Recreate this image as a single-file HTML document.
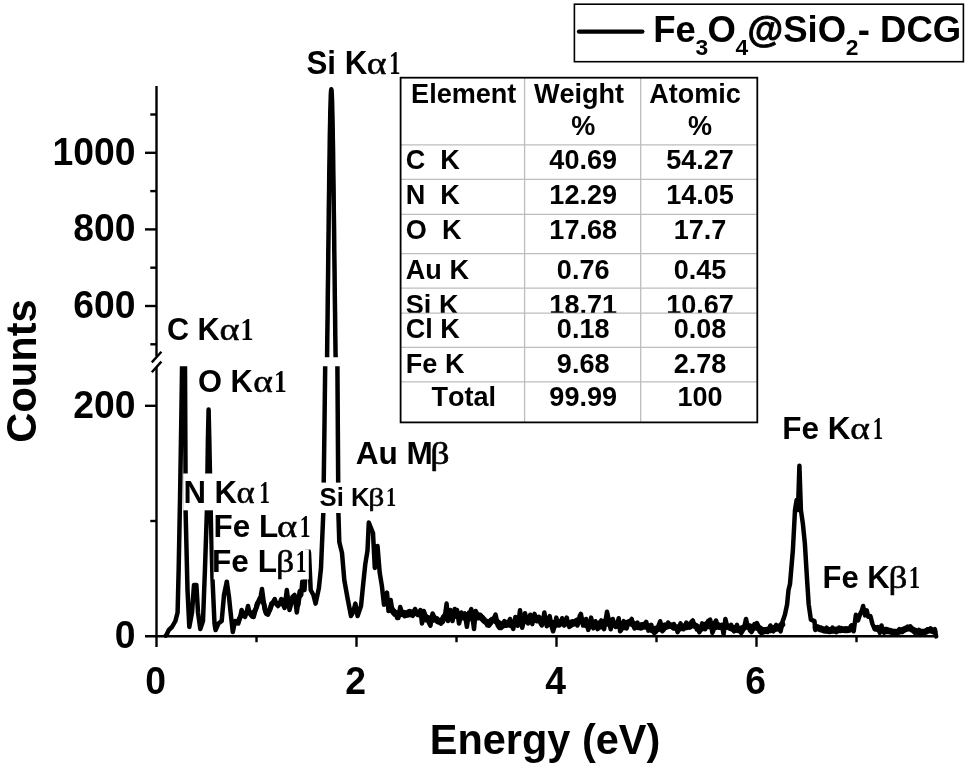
<!DOCTYPE html>
<html lang="en"><head><meta charset="utf-8"><title>EDS spectrum Fe3O4@SiO2-DCG</title>
<style>
html,body{margin:0;padding:0;background:#fff;}
svg{display:block;}
text{font-family:"Liberation Sans", sans-serif;font-weight:bold;fill:#000;font-kerning:none;}
.sy{font-family:"Liberation Serif", serif;font-weight:normal;}
.syb{font-family:"Liberation Serif", serif;font-weight:bold;}
</style></head><body>
<svg width="965" height="770" viewBox="0 0 965 770">
<rect x="0" y="0" width="965" height="770" fill="#fff"/>
<defs>
<clipPath id="cl"><rect x="150" y="366.2" width="800" height="275"/></clipPath>
<clipPath id="cu"><rect x="150" y="80" width="800" height="277.2"/></clipPath>
<clipPath id="csi"><rect x="400" y="288.1" width="358" height="24.6"/></clipPath>
</defs>
<g fill="none" stroke="#000" stroke-width="4.5" stroke-linejoin="round" stroke-linecap="round">
<polyline clip-path="url(#cl)" points="165.8,635.6 166.8,634.2 168.8,630.0 172.0,627.0 175.4,621.0 177.6,612.5 178.7,568.0 180.0,500.0 181.3,420.0 182.6,330.0 183.5,300.0 184.4,330.0 185.0,366.0 185.5,470.0 185.6,511.0 187.5,590.0 189.3,627.0 192.0,612.5 194.0,585.0 196.4,585.0 198.0,612.5 200.3,629.0 203.0,621.0 205.0,568.0 206.9,511.0 207.9,440.0 208.6,409.5 209.3,440.0 210.7,511.0 212.5,579.0 214.5,623.5 215.6,630.0 218.4,623.5 221.7,621.0 224.0,595.0 226.8,581.5 229.0,597.0 230.6,612.5 232.8,632.0 235.0,621.0 236.7,623.1 238.3,623.5 239.9,618.4 241.6,610.0 243.3,615.3 245.0,617.0 246.5,612.7 248.0,606.0 249.2,611.5 250.4,614.6 252.1,616.6 253.7,617.0 255.3,611.1 257.0,603.6 258.4,602.9 259.7,600.0 260.9,595.5 262.0,589.0 264.8,610.0 266.4,613.9 268.0,614.6 269.7,610.0 271.4,603.6 273.0,602.0 274.7,599.0 276.4,604.2 278.0,606.0 279.6,603.8 281.3,599.0 283.0,604.4 284.6,608.0 286.8,590.0 289.5,610.0 290.9,604.8 292.4,597.0 294.6,595.0 296.8,612.5 299.0,597.0 301.2,595.0 302.3,581.5 304.5,590.0 306.0,565.0 307.6,547.0 309.0,553.0 310.7,590.0 313.4,595.0 315.6,603.6 318.9,588.0 321.0,568.0 323.3,513.0 324.3,440.0 325.2,366.0 326.0,300.0 331.3,100.0 336.6,300.0 337.4,366.0 337.9,440.0 338.4,513.0 339.3,542.0 342.0,553.0 344.3,580.0 347.7,599.0 351.0,616.0 353.0,612.5 355.4,603.6 357.6,616.0 361.0,606.0 363.0,586.0 365.3,564.0 367.5,550.6 368.8,522.5 370.8,527.5 373.0,533.0 374.8,568.0 377.5,546.0 379.7,572.7 381.9,586.0 384.0,604.7 387.0,592.6 388.5,611.0 390.7,600.0 391.9,607.6 393.0,612.5 394.5,614.6 396.0,614.6 397.2,618.0 398.4,618.0 400.2,607.0 401.5,611.2 402.8,613.5 404.4,616.2 406.0,615.8 407.2,615.6 408.3,611.6 409.5,611.0 411.1,614.9 412.8,615.8 415.0,609.0 416.6,612.7 418.3,614.6 420.5,610.0 422.0,623.5 423.8,611.0 425.4,615.5 427.0,617.0 428.7,622.3 430.4,625.7 432.6,613.5 434.3,617.2 436.0,619.0 437.6,622.1 439.3,622.4 441.0,623.7 442.6,621.0 444.8,617.0 446.6,603.6 448.0,621.0 449.1,616.5 450.3,610.0 452.5,621.0 454.7,609.0 455.9,610.7 457.0,610.0 459.0,623.5 460.1,619.7 461.3,612.5 463.0,615.1 464.7,613.5 466.9,626.8 469.0,612.5 470.1,612.4 471.3,609.0 474.0,629.0 475.7,611.0 477.4,614.2 479.0,614.6 480.6,618.0 482.3,617.0 484.0,619.9 485.6,621.0 487.3,625.4 489.0,625.7 490.6,623.6 492.3,619.0 494.0,617.9 495.6,614.6 497.8,625.7 499.4,627.9 501.0,628.0 502.7,625.8 504.4,621.0 506.6,625.7 508.3,624.3 510.0,619.0 511.6,625.1 513.2,629.0 515.4,617.0 517.6,625.7 518.8,619.6 520.0,610.3 522.2,627.7 523.6,622.2 525.0,613.2 526.5,619.7 528.0,623.4 530.2,614.7 532.3,624.1 534.5,613.9 536.7,621.2 538.9,616.8 540.3,622.8 541.8,625.5 543.1,620.0 544.4,612.5 545.6,620.4 546.8,626.3 548.2,622.4 549.7,616.1 551.4,625.5 553.1,631.3 554.7,625.9 556.3,617.6 557.8,622.8 559.2,625.5 560.7,623.6 562.1,618.3 564.2,625.5 565.5,623.0 566.7,617.6 568.0,623.6 569.3,627.0 570.8,626.0 572.2,621.2 573.7,623.0 575.1,621.2 577.3,625.5 578.5,622.8 579.7,616.1 580.9,613.9 583.1,625.5 584.5,623.8 586.0,619.0 588.2,629.9 589.7,625.8 591.1,617.6 593.3,628.4 595.4,621.2 597.6,629.2 598.8,628.1 600.0,622.1 601.2,620.5 602.7,627.0 604.1,629.2 607.0,611.8 610.7,629.2 612.8,619.0 614.2,624.0 615.7,627.0 617.2,624.1 618.7,618.3 620.1,631.3 621.3,629.8 622.5,623.5 623.7,621.2 625.2,626.3 626.6,628.4 628.8,621.2 630.2,621.0 631.7,619.0 633.2,625.5 634.6,628.4 636.0,627.4 637.5,622.6 639.0,627.1 640.4,628.4 641.8,628.3 643.3,624.1 644.8,624.3 646.2,621.9 648.4,630.6 649.8,629.5 651.3,624.8 652.9,630.6 654.3,633.0 655.8,632.1 658.0,627.0 660.2,621.2 662.3,631.3 663.8,629.7 665.2,624.8 666.7,625.2 668.1,622.6 669.5,626.4 671.0,626.3 672.5,627.3 673.9,624.1 675.1,628.3 676.4,627.7 677.6,632.1 679.0,628.7 680.5,623.4 682.0,628.1 683.4,629.2 684.8,627.6 686.3,622.6 687.8,627.3 689.2,627.7 690.4,627.3 691.6,621.6 692.8,620.5 694.2,624.4 695.7,625.5 696.9,629.5 698.1,629.0 699.3,632.1 700.8,629.2 702.2,623.4 703.7,627.4 705.1,629.2 706.5,626.2 708.0,621.2 710.2,619.7 712.4,632.8 713.6,629.7 714.8,622.7 716.0,620.5 717.5,625.2 718.9,627.7 720.3,627.5 721.8,624.8 723.6,634.2 725.4,619.0 726.8,624.7 728.3,627.7 729.8,628.3 731.2,624.8 732.7,629.0 734.1,631.3 735.5,629.5 737.0,624.8 738.5,629.7 739.9,631.3 741.3,633.0 742.8,630.6 744.4,626.8 746.0,619.0 747.3,624.7 748.6,626.3 750.0,630.4 751.5,632.1 753.0,629.5 754.4,624.1 755.6,625.9 756.9,623.0 758.1,625.5 759.5,631.3 761.0,632.8 762.2,632.7 763.4,629.3 764.6,629.2 766.0,631.8 767.5,632.1 769.0,630.0 770.4,625.5 771.8,629.9 773.3,631.3 774.8,629.7 776.2,624.8 777.7,627.5 779.1,627.7 780.6,631.3 782.7,621.2 784.9,614.7 787.1,604.5 788.5,590.0 790.0,584.0 792.9,550.0 795.0,510.0 796.6,500.0 798.0,510.0 799.4,465.7 800.9,510.0 802.9,524.0 804.9,544.0 807.0,578.6 808.7,604.5 810.9,619.7 814.5,621.2 815.2,629.9 816.7,629.1 818.1,627.0 819.5,628.4 821.0,627.7 822.5,630.5 823.9,631.3 825.3,630.7 826.8,627.7 828.2,631.5 829.7,632.1 831.2,631.2 832.6,627.7 833.8,630.3 835.1,629.4 836.3,632.1 837.8,631.2 839.2,627.7 840.4,629.4 841.6,628.1 842.8,630.6 844.2,630.9 845.7,628.4 847.2,631.0 848.6,630.6 850.0,629.5 851.5,625.5 853.7,631.3 855.9,614.7 858.0,620.5 860.2,613.9 861.7,611.0 863.1,606.0 865.0,615.4 866.7,610.3 868.2,616.8 870.4,616.1 872.5,624.1 874.7,629.2 876.2,629.1 877.6,627.0 879.8,632.8 881.5,625.5 882.8,629.9 884.1,632.8 885.5,632.2 887.0,629.2 888.5,630.2 889.9,629.9 891.1,631.8 892.4,631.5 893.6,633.5 895.0,633.6 896.5,632.1 898.0,631.6 899.4,629.2 900.8,631.3 902.3,632.1 903.8,630.9 905.2,628.4 906.5,628.7 907.8,626.6 909.0,627.8 910.3,626.3 911.8,629.1 913.2,630.6 914.7,632.8 916.1,632.1 917.5,632.2 919.0,629.9 920.5,632.1 921.9,632.8 923.3,633.3 924.8,632.1 926.2,631.6 927.7,629.2 929.2,629.8 930.6,628.4 932.7,631.3 934.9,629.2 936.1,636.4"/>
<polyline clip-path="url(#cl)" stroke-width="6.5" points="392.0,610.0 394.0,612.2 396.0,613.2 398.0,613.9 400.0,614.1 402.0,613.6 404.0,613.0 406.0,613.6 408.0,614.2 410.0,614.1 412.0,612.5 414.0,613.0 416.0,612.4 418.0,614.0 420.0,614.4 422.0,614.9 424.0,615.4 426.0,619.2 428.0,618.3 430.0,619.2 432.0,619.6 434.0,619.5 436.0,618.9 438.0,620.9 440.0,621.6 442.0,621.2 444.0,617.3 446.0,614.9 448.0,614.9 450.0,614.4 452.0,614.7 454.0,612.1 456.0,615.6 458.0,614.2 460.0,615.3 462.0,616.9 464.0,617.5 466.0,616.1 468.0,614.8 470.0,617.9 472.0,614.8 474.0,615.1 476.0,617.2 478.0,617.3 480.0,615.8 482.0,618.1 484.0,620.3 486.0,621.8 488.0,622.4 490.0,622.1 492.0,620.2 494.0,620.2 496.0,621.0 498.0,622.8 500.0,623.8 502.0,625.7 504.0,625.0 506.0,623.2 508.0,623.0 510.0,624.6 512.0,622.9 514.0,623.2 516.0,621.1 518.0,620.1 520.0,621.1 522.0,619.8 524.0,619.4 526.0,620.1 528.0,619.5 530.0,619.2 532.0,619.0 534.0,618.5 536.0,619.8 538.0,620.0 540.0,619.8 542.0,619.6 544.0,621.4 546.0,620.4 548.0,620.5 550.0,623.6 552.0,623.1 554.0,623.2 556.0,624.6 558.0,622.3 560.0,622.2 562.0,623.1 564.0,621.9 566.0,622.5 568.0,623.4 570.0,623.1 572.0,623.7 574.0,623.3 576.0,621.6 578.0,620.4 580.0,620.8 582.0,620.2 584.0,621.4 586.0,624.8 588.0,623.2 590.0,624.1 592.0,624.6 594.0,624.4 596.0,625.8 598.0,624.2 600.0,626.0 602.0,626.0 604.0,622.1 606.0,622.7 608.0,623.4 610.0,621.0 612.0,624.8 614.0,624.7 616.0,624.0 618.0,625.4 620.0,625.0 622.0,625.1 624.0,626.8 626.0,623.6 628.0,622.9 630.0,623.0 632.0,623.7 634.0,624.0 636.0,625.5 638.0,627.0 640.0,626.3 642.0,625.2 644.0,626.3 646.0,626.4 648.0,626.2 650.0,628.4 652.0,630.1 654.0,629.5 656.0,628.8 658.0,628.9 660.0,628.3 662.0,626.8 664.0,625.8 666.0,626.7 668.0,626.0 670.0,625.3 672.0,626.1 674.0,627.5 676.0,627.4 678.0,627.5 680.0,628.2 682.0,627.4 684.0,626.4 686.0,627.1 688.0,625.7 690.0,624.5 692.0,624.9 694.0,625.4 696.0,626.1 698.0,627.6 700.0,628.0 702.0,628.4 704.0,626.1 706.0,624.5 708.0,626.1 710.0,625.9 712.0,624.4 714.0,625.1 716.0,626.6 718.0,625.4 720.0,626.6 722.0,626.6 724.0,626.3 726.0,626.5 728.0,626.5 730.0,627.6 732.0,628.4 734.0,628.2 736.0,629.3 738.0,629.9 740.0,629.4 742.0,628.4 744.0,627.6 746.0,626.3 748.0,626.5 750.0,626.6 752.0,628.1 754.0,627.2 756.0,627.3 758.0,627.9 760.0,628.6 762.0,630.4 764.0,631.3 766.0,630.1 768.0,629.8 770.0,630.1 772.0,629.0 774.0,628.1 776.0,628.5 778.0,628.2 780.0,626.5 782.0,624.5"/>
<polyline clip-path="url(#cl)" stroke-width="6.5" points="816.0,627.1 818.0,627.7 820.0,629.0 822.0,629.3 824.0,629.7 826.0,630.6 828.0,630.7 830.0,630.1 832.0,630.6 834.0,630.6 836.0,629.7 838.0,629.7 840.0,630.0 842.0,629.5 844.0,629.7 846.0,629.9 848.0,629.3 850.0,629.4 852.0,626.3"/>
<polyline clip-path="url(#cl)" stroke-width="6.5" points="876.0,628.4 878.0,628.7 880.0,629.5 882.0,630.0 884.0,630.4 886.0,630.0 888.0,631.1 890.0,631.2 892.0,631.8 894.0,632.0 896.0,631.9 898.0,631.9 900.0,631.2 902.0,630.3 904.0,629.7 906.0,628.7 908.0,628.3 910.0,628.2 912.0,629.3 914.0,630.5 916.0,631.3 918.0,632.0 920.0,632.1 922.0,632.0 924.0,631.9 926.0,631.5 928.0,630.2 930.0,630.1 932.0,630.7 934.0,631.3"/>
<polyline clip-path="url(#cl)" stroke-width="5" points="236.0,622.5 238.0,621.5 240.0,617.3 242.0,615.2 244.0,613.8 246.0,612.8 248.0,612.4 250.0,612.2 252.0,614.9 254.0,612.1 256.0,608.7 258.0,602.6 260.0,598.2 262.0,598.6 264.0,604.3 266.0,612.8 268.0,612.8 270.0,609.4 272.0,603.7 274.0,602.2 276.0,602.8 278.0,604.7 280.0,603.3 282.0,603.8 284.0,600.3 286.0,599.0 288.0,601.6 290.0,603.9 292.0,601.7 294.0,601.5 296.0,601.5 298.0,604.8 300.0,591.2"/>
<polyline clip-path="url(#cu)" points="322.3,528.3 322.6,526.4 322.8,524.1 323.1,521.3 323.3,518.0 323.6,514.1 323.8,509.6 324.1,504.2 324.3,498.0 324.6,490.8 324.8,482.7 325.1,473.4 325.3,463.0 325.6,451.4 325.8,438.6 326.1,424.4 326.3,409.1 326.6,392.5 326.8,374.8 327.1,356.1 327.3,336.4 327.6,315.9 327.8,294.9 328.1,273.5 328.3,252.1 328.6,230.7 328.8,209.9 329.1,189.8 329.3,170.7 329.6,153.1 329.8,137.1 330.1,123.0 330.3,111.2 330.6,101.7 330.8,94.8 331.1,90.6 331.3,89.2 331.6,90.6 331.8,94.8 332.1,101.7 332.3,111.2 332.6,123.0 332.8,137.1 333.1,153.1 333.3,170.7 333.6,189.8 333.8,209.9 334.1,230.7 334.3,252.1 334.6,273.5 334.8,294.9 335.1,315.9 335.3,336.4 335.6,356.1 335.8,374.8 336.1,392.5 336.3,409.1 336.6,424.4 336.8,438.6 337.1,451.4 337.3,463.0 337.6,473.4 337.8,482.7 338.1,490.8 338.3,498.0 338.6,504.2 338.8,509.6 339.1,514.1 339.3,518.0 339.6,521.3 339.8,524.1 340.1,526.4 340.3,528.3"/>
</g>
<g stroke="#000" stroke-width="2.4" fill="none" stroke-linecap="butt">
<line x1="145" y1="636.3" x2="937.5" y2="636.3"/>
<line x1="156.5" y1="86" x2="156.5" y2="356.5"/>
<line x1="156.5" y1="367" x2="156.5" y2="647"/>
<line x1="151.8" y1="362.4" x2="161.4" y2="351.8"/>
<line x1="151.8" y1="372.2" x2="161.4" y2="361.6"/>
<line x1="150.3" y1="344.3" x2="156.5" y2="344.3"/>
<line x1="145" y1="306.0" x2="156.5" y2="306.0"/>
<line x1="150.3" y1="267.7" x2="156.5" y2="267.7"/>
<line x1="145" y1="229.4" x2="156.5" y2="229.4"/>
<line x1="150.3" y1="191.1" x2="156.5" y2="191.1"/>
<line x1="145" y1="152.8" x2="156.5" y2="152.8"/>
<line x1="150.3" y1="114.5" x2="156.5" y2="114.5"/>
<line x1="145" y1="405.8" x2="156.5" y2="405.8"/>
<line x1="150.3" y1="521.0" x2="156.5" y2="521.0"/>
<line x1="256.5" y1="636.3" x2="256.5" y2="642.2"/>
<line x1="356.5" y1="636.3" x2="356.5" y2="646.8"/>
<line x1="456.5" y1="636.3" x2="456.5" y2="642.2"/>
<line x1="556.5" y1="636.3" x2="556.5" y2="646.8"/>
<line x1="656.5" y1="636.3" x2="656.5" y2="642.2"/>
<line x1="756.5" y1="636.3" x2="756.5" y2="646.8"/>
<line x1="856.5" y1="636.3" x2="856.5" y2="642.2"/>
</g>
<text transform="translate(135.4,164.8) scale(0.957,1)" font-size="39" text-anchor="end">1000</text>
<text transform="translate(135.4,241.4) scale(0.957,1)" font-size="39" text-anchor="end">800</text>
<text transform="translate(135.4,318.0) scale(0.957,1)" font-size="39" text-anchor="end">600</text>
<text transform="translate(135.4,417.8) scale(0.957,1)" font-size="39" text-anchor="end">200</text>
<text transform="translate(135.4,648.3) scale(0.957,1)" font-size="39" text-anchor="end">0</text>
<text transform="translate(155.7,694.4) scale(0.957,1)" font-size="39" text-anchor="middle">0</text>
<text transform="translate(355.7,694.4) scale(0.957,1)" font-size="39" text-anchor="middle">2</text>
<text transform="translate(555.7,694.4) scale(0.957,1)" font-size="39" text-anchor="middle">4</text>
<text transform="translate(755.7,694.4) scale(0.957,1)" font-size="39" text-anchor="middle">6</text>
<text transform="translate(545.0,754.2) scale(0.983,1)" font-size="42.2" text-anchor="middle">Energy (eV)</text>
<text transform="translate(35.5,371.0) rotate(-90) scale(0.98,1)" font-size="42.5" text-anchor="middle">Counts</text>
<text transform="translate(306.50,73.9) scale(0.966,1)" font-size="32.4" xml:space="preserve">Si K</text>
<text class="sy" transform="translate(366.86,73.9) scale(1.166,1)" font-size="32.4" xml:space="preserve" stroke="#000" stroke-width="0.5">α</text>
<text class="syb" transform="translate(389.22,73.9) scale(0.649,1)" font-size="34.3" xml:space="preserve">1</text>
<text transform="translate(166.94,340.0) scale(0.998,1)" font-size="30.7" xml:space="preserve">C K</text>
<text class="sy" transform="translate(219.45,340.0) scale(1.244,1)" font-size="30.7" xml:space="preserve" stroke="#000" stroke-width="0.5">α</text>
<text class="syb" transform="translate(240.61,340.0) scale(0.802,1)" font-size="32.5" xml:space="preserve">1</text>
<text transform="translate(198.03,391.9) scale(1.005,1)" font-size="30.7" xml:space="preserve">O K</text>
<text class="sy" transform="translate(253.18,391.9) scale(1.216,1)" font-size="30.7" xml:space="preserve" stroke="#000" stroke-width="0.5">α</text>
<text class="syb" transform="translate(274.06,391.9) scale(0.786,1)" font-size="32.5" xml:space="preserve">1</text>
<rect x="183.2" y="473.5" width="90" height="36.8" fill="#fff"/>
<text transform="translate(183.42,502.9) scale(1.013,1)" font-size="30.7" xml:space="preserve">N K</text>
<text class="sy" transform="translate(236.58,502.9) scale(1.132,1)" font-size="30.7" xml:space="preserve" stroke="#000" stroke-width="0.5">α</text>
<text class="syb" transform="translate(259.28,502.9) scale(0.660,1)" font-size="32.5" xml:space="preserve">1</text>
<rect x="213.6" y="512.5" width="99" height="37" fill="#fff"/>
<text transform="translate(213.50,537.0) scale(1.025,1)" font-size="30.7" xml:space="preserve">Fe L</text>
<text class="sy" transform="translate(276.94,537.0) scale(1.251,1)" font-size="30.7" xml:space="preserve" stroke="#000" stroke-width="0.5">α</text>
<text class="syb" transform="translate(299.78,537.0) scale(0.660,1)" font-size="32.5" xml:space="preserve">1</text>
<rect x="213.6" y="549.4" width="95.2" height="30" fill="#fff"/>
<text transform="translate(212.09,572.3) scale(1.028,1)" font-size="30.7" xml:space="preserve">Fe L</text>
<text class="sy" transform="translate(276.09,572.3) scale(1.167,1)" font-size="30.7" xml:space="preserve" stroke="#000" stroke-width="0.5">β</text>
<text class="syb" transform="translate(295.86,572.3) scale(0.669,1)" font-size="32.5" xml:space="preserve">1</text>
<rect x="318.5" y="482.6" width="80" height="30.4" fill="#fff"/>
<text transform="translate(319.56,506.1) scale(0.998,1)" font-size="25.7" xml:space="preserve">Si K</text>
<text class="sy" transform="translate(368.36,506.1) scale(1.230,1)" font-size="25.7" xml:space="preserve" stroke="#000" stroke-width="0.5">β</text>
<text class="syb" transform="translate(385.97,506.1) scale(0.749,1)" font-size="27.2" xml:space="preserve">1</text>
<text transform="translate(355.71,463.5) scale(1.029,1)" font-size="30.7" xml:space="preserve">Au M</text>
<text class="sy" transform="translate(430.35,463.5) scale(1.240,1)" font-size="30.7" xml:space="preserve" stroke="#000" stroke-width="0.5">β</text>
<text transform="translate(782.29,438.8) scale(1.027,1)" font-size="30.7" xml:space="preserve">Fe K</text>
<text class="sy" transform="translate(850.28,438.8) scale(1.216,1)" font-size="30.7" xml:space="preserve" stroke="#000" stroke-width="0.5">α</text>
<text class="syb" transform="translate(872.63,438.8) scale(0.644,1)" font-size="32.5" xml:space="preserve">1</text>
<text transform="translate(822.52,587.6) scale(1.011,1)" font-size="30.7" xml:space="preserve">Fe K</text>
<text class="sy" transform="translate(888.61,587.6) scale(1.208,1)" font-size="30.7" xml:space="preserve" stroke="#000" stroke-width="0.5">β</text>
<text class="syb" transform="translate(908.87,587.6) scale(0.702,1)" font-size="32.5" xml:space="preserve">1</text>
<rect x="574.4" y="4.2" width="389" height="57.5" fill="#fff" stroke="#000" stroke-width="1.6"/>
<line x1="579" y1="31.6" x2="642.3" y2="31.6" stroke="#000" stroke-width="4.4" stroke-linecap="round"/>
<text x="653.2" y="41.5" font-size="36.5">Fe<tspan font-size="22.8" dy="13.2" dx="-0.4">3</tspan><tspan dy="-13.2" dx="-0.6">O</tspan><tspan font-size="22.8" dy="13.2" dx="-0.4">4</tspan><tspan dy="-13.2" dx="-0.6" stroke="#000" stroke-width="0.9">@</tspan><tspan>SiO</tspan><tspan font-size="22.8" dy="13.2" dx="-0.4">2</tspan><tspan dy="-13.2" dx="-0.6">- DCG</tspan></text>
<rect x="400.6" y="77.7" width="356.7" height="344.7" fill="#fff"/>
<g stroke="#bdbdbd" stroke-width="1.3">
<line x1="524.6" y1="77.7" x2="524.6" y2="422.4"/>
<line x1="640.7" y1="77.7" x2="640.7" y2="422.4"/>
<line x1="400.6" y1="144.8" x2="757.3" y2="144.8"/>
<line x1="400.6" y1="179.3" x2="757.3" y2="179.3"/>
<line x1="400.6" y1="214.4" x2="757.3" y2="214.4"/>
<line x1="400.6" y1="253.6" x2="757.3" y2="253.6"/>
<line x1="400.6" y1="288.1" x2="757.3" y2="288.1"/>
<line x1="400.6" y1="313.2" x2="757.3" y2="313.2"/>
<line x1="400.6" y1="347.3" x2="757.3" y2="347.3"/>
<line x1="400.6" y1="381.8" x2="757.3" y2="381.8"/>
</g>
<rect x="400.6" y="77.7" width="356.7" height="344.7" fill="none" stroke="#000" stroke-width="1.8"/>
<text transform="translate(463.7,103.2) scale(1.01,1)" font-size="26.8" text-anchor="middle" xml:space="preserve">Element</text>
<text transform="translate(579.0,103.2) scale(1.01,1)" font-size="26.8" text-anchor="middle" xml:space="preserve">Weight</text>
<text transform="translate(583.2,135.4) scale(1.01,1)" font-size="26.8" text-anchor="middle" xml:space="preserve">%</text>
<text transform="translate(695.0,103.2) scale(1.01,1)" font-size="26.8" text-anchor="middle" xml:space="preserve">Atomic</text>
<text transform="translate(700.0,135.4) scale(1.01,1)" font-size="26.8" text-anchor="middle" xml:space="preserve">%</text>
<text transform="translate(405.8,168.9) scale(1.01,1)" font-size="26.8" text-anchor="start" xml:space="preserve">C  K</text>
<text transform="translate(583.2,168.9) scale(1.01,1)" font-size="26.8" text-anchor="middle" xml:space="preserve">40.69</text>
<text transform="translate(700.0,168.9) scale(1.01,1)" font-size="26.8" text-anchor="middle" xml:space="preserve">54.27</text>
<text transform="translate(405.8,204.1) scale(1.01,1)" font-size="26.8" text-anchor="start" xml:space="preserve">N  K</text>
<text transform="translate(583.2,204.1) scale(1.01,1)" font-size="26.8" text-anchor="middle" xml:space="preserve">12.29</text>
<text transform="translate(700.0,204.1) scale(1.01,1)" font-size="26.8" text-anchor="middle" xml:space="preserve">14.05</text>
<text transform="translate(405.8,239.1) scale(1.01,1)" font-size="26.8" text-anchor="start" xml:space="preserve">O  K</text>
<text transform="translate(583.2,239.1) scale(1.01,1)" font-size="26.8" text-anchor="middle" xml:space="preserve">17.68</text>
<text transform="translate(700.0,239.1) scale(1.01,1)" font-size="26.8" text-anchor="middle" xml:space="preserve">17.7</text>
<text transform="translate(405.8,279.2) scale(1.01,1)" font-size="26.8" text-anchor="start" xml:space="preserve">Au K</text>
<text transform="translate(583.2,279.2) scale(1.01,1)" font-size="26.8" text-anchor="middle" xml:space="preserve">0.76</text>
<text transform="translate(700.0,279.2) scale(1.01,1)" font-size="26.8" text-anchor="middle" xml:space="preserve">0.45</text>
<g clip-path="url(#csi)"><text transform="translate(405.8,314.1) scale(1.01,1)" font-size="26.8" text-anchor="start" xml:space="preserve">Si K</text></g>
<g clip-path="url(#csi)"><text transform="translate(583.2,314.1) scale(1.01,1)" font-size="26.8" text-anchor="middle" xml:space="preserve">18.71</text></g>
<g clip-path="url(#csi)"><text transform="translate(700.0,314.1) scale(1.01,1)" font-size="26.8" text-anchor="middle" xml:space="preserve">10.67</text></g>
<text transform="translate(405.8,337.9) scale(1.01,1)" font-size="26.8" text-anchor="start" xml:space="preserve">Cl K</text>
<text transform="translate(583.2,337.9) scale(1.01,1)" font-size="26.8" text-anchor="middle" xml:space="preserve">0.18</text>
<text transform="translate(700.0,337.9) scale(1.01,1)" font-size="26.8" text-anchor="middle" xml:space="preserve">0.08</text>
<text transform="translate(405.8,372.5) scale(1.01,1)" font-size="26.8" text-anchor="start" xml:space="preserve">Fe K</text>
<text transform="translate(583.2,372.5) scale(1.01,1)" font-size="26.8" text-anchor="middle" xml:space="preserve">9.68</text>
<text transform="translate(700.0,372.5) scale(1.01,1)" font-size="26.8" text-anchor="middle" xml:space="preserve">2.78</text>
<text transform="translate(463.7,405.7) scale(1.01,1)" font-size="26.8" text-anchor="middle" xml:space="preserve">Total</text>
<text transform="translate(583.2,405.7) scale(1.01,1)" font-size="26.8" text-anchor="middle" xml:space="preserve">99.99</text>
<text transform="translate(700.0,405.7) scale(1.01,1)" font-size="26.8" text-anchor="middle" xml:space="preserve">100</text>
</svg>
</body></html>
